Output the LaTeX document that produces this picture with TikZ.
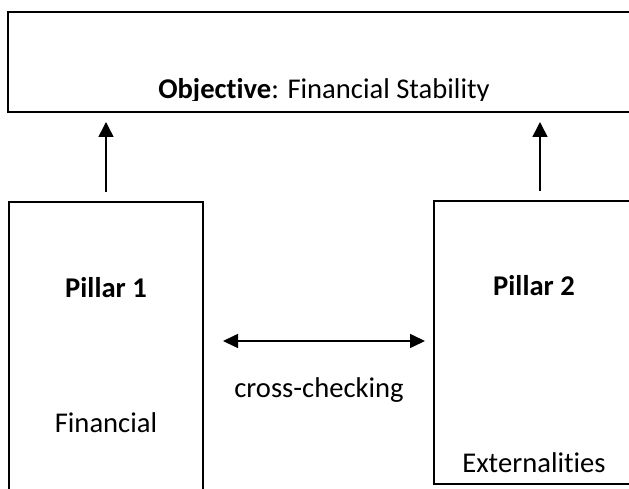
\documentclass[tikz,border=0pt]{standalone}
\usepackage{fontspec}
\setmainfont{Carlito}[Ligatures=NoCommon]
\usetikzlibrary{arrows.meta}
\tikzset{
  boxstyle/.style={draw=black, line width=2.4pt, fill=none, inner sep=0pt, outer sep=0pt},
  txt/.style={inner sep=0pt, outer sep=0pt, anchor=base, font=\fontsize{28.6}{34}\selectfont},
  arr/.style={line width=1.6pt, -{Triangle[length=15pt,width=15pt]}},
  darr/.style={line width=1.6pt, {Triangle[length=15pt,width=14pt]}-{Triangle[length=15pt,width=14pt]}}
}
\begin{document}
\begin{tikzpicture}[x=1pt,y=-1pt]
\useasboundingbox (0,0) rectangle (629,489);
\clip (0,0) rectangle (629,489);
% boxes
\node[boxstyle, minimum width=640pt, minimum height=100pt] (obj) at (328,62) {};
\node[boxstyle, minimum width=194pt, minimum height=320pt] (p1) at (106,362) {};
\node[boxstyle, minimum width=212pt, minimum height=283pt] (p2) at (540,342.5) {};
% title text (clipped)
\begin{scope}
\clip (0,0) rectangle (629,100.5);
\node[txt] (objtxt) at (324,99) {\textbf{Objective}: Financial Stability};
\end{scope}
% pillar texts
\node[txt] (p1t) at (106,297) {\textbf{Pillar 1}};
\node[txt] (p1a) at (106,432) {Financial};
\begin{scope}
\clip (0,0) rectangle (629,482.5);
\node[txt] (p1b) at (106,503.1) {imbalances};
\end{scope}
\node[txt] (p2t) at (534,295) {\textbf{Pillar 2}};
\node[txt] (p2a) at (534,472) {Externalities};
\node[txt] (cc) at (319,397) {cross-checking};
% arrows
\coordinate (mid) at (0,341);
\draw[arr, shorten <=10pt, shorten >=10pt] (p1.north) -- (p1.north |- obj.south);
\draw[arr, shorten <=10pt, shorten >=10pt] (p2.north) -- (p2.north |- obj.south);
\draw[darr, shorten <=20pt, shorten >=9pt] (p1.east |- mid) -- (p2.west |- mid);
\end{tikzpicture}
\end{document}
